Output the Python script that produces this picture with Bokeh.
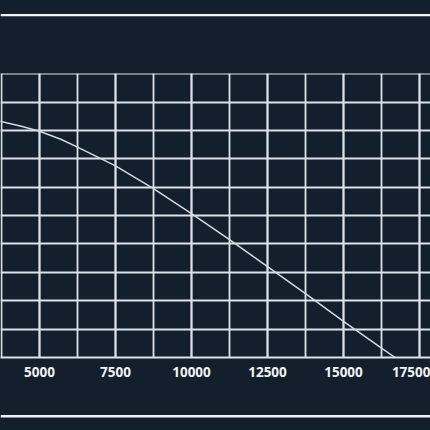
from bokeh.plotting import figure
from bokeh.models import Range1d, SingleIntervalTicker, Span
from bokeh.layouts import column
from bokeh.embed import file_html
from bokeh.resources import INLINE

# data (x in the axis units, y in relative grid units 0..100)
x_values = [3500, 4400, 5000, 5700, 6250, 7500, 8750, 10000, 11250, 12500, 13750, 15000, 16250, 16700]
y_values = [83.7, 81.5, 79.7, 76.9, 74.1, 67.5, 59.5, 50.7, 41.5, 32.0, 22.5, 12.7, 3.3, 0.0]

BG = "#141f2d"
GRID = "#dde2e8"
RULE = "#f0f2f5"


def strip(height, rule_y):
    f = figure(width=430, height=height, output_backend="svg", toolbar_location=None,
               x_range=Range1d(0, 1), y_range=Range1d(0, height),
               x_axis_location=None, y_axis_location=None,
               min_border=0)
    f.background_fill_color = BG
    f.border_fill_color = BG
    f.outline_line_color = None
    f.grid.visible = False
    f.add_layout(Span(location=rule_y, dimension="width", line_color=RULE, line_width=2.4))
    return f


top = strip(71, 56.4)

p = figure(width=430, height=326, output_backend="svg", toolbar_location=None,
           x_range=Range1d(3717, 17862), y_range=Range1d(0, 100.05),
           y_axis_location=None,
           min_border_left=0, min_border_right=0, min_border_top=2, min_border_bottom=40)

p.background_fill_color = BG
p.border_fill_color = BG
p.outline_line_color = None

p.xaxis.ticker = SingleIntervalTicker(interval=2500, num_minor_ticks=2)
p.xgrid.ticker = p.xaxis.ticker
p.ygrid.ticker = SingleIntervalTicker(interval=10)

for g in (p.xgrid, p.ygrid):
    g.grid_line_color = GRID
    g.grid_line_width = 1.8
p.xgrid.minor_grid_line_color = GRID
p.xgrid.minor_grid_line_width = 1.8

ax = p.xaxis[0]
ax.axis_line_color = GRID
ax.axis_line_width = 1.8
ax.major_tick_line_color = None
ax.minor_tick_line_color = None
ax.major_tick_out = 0
ax.minor_tick_out = 0
ax.major_label_standoff = 9
ax.major_label_text_font = "Open Sans"
ax.major_label_text_font_style = "bold"
ax.major_label_text_font_size = "13.5px"
ax.major_label_text_color = "#f0f3f6"

p.line(x_values, y_values, line_color="#d3d9e0", line_width=1.5)

bottom = strip(33, 14.2)

layout = column(top, p, bottom, spacing=0, styles={"background-color": BG})

open("out.html", "w").write(file_html(layout, INLINE))
